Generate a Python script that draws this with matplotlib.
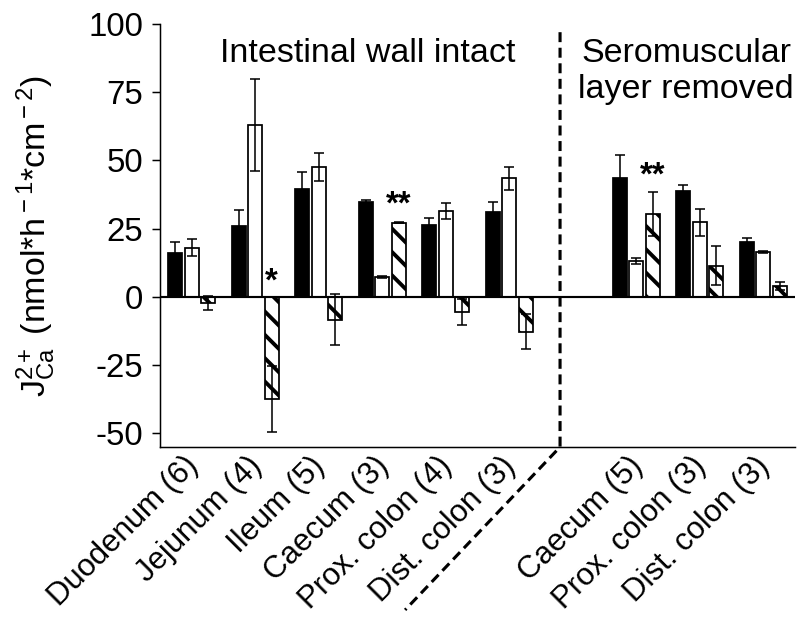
""" Transepithelial Ca2+ flux along the intestine, grouped bar chart """

import matplotlib
matplotlib.use("Agg")
import matplotlib.pyplot as plt
import matplotlib.transforms as mtransforms
import numpy as np

plt.rcParams['font.family'] = ['Liberation Sans', 'DejaVu Sans']
plt.rcParams['mathtext.fontset'] = 'custom'
plt.rcParams['mathtext.rm'] = 'Liberation Sans'
plt.rcParams['mathtext.it'] = 'Liberation Sans:italic'
plt.rcParams['hatch.linewidth'] = 2.0

DPI = 140
PX = 72.0 / DPI  # points per pixel
W, H = 798, 619

# Segments (n) - first six with intact wall, last three with seromuscular layer removed
segments = ['Duodenum (6)', 'Jejunum (4)', 'Ileum (5)', 'Caecum (3)',
            'Prox. colon (4)', 'Dist. colon (3)',
            'Caecum (5)', 'Prox. colon (3)', 'Dist. colon (3)']
n_intact = 6

black_mean = [16.0, 26.0, 39.4, 34.7, 26.4, 31.1, 43.5, 38.8, 20.3]
black_err = [4.0, 5.9, 6.3, 0.8, 2.4, 3.7, 8.5, 2.2, 1.2]
white_mean = [18.1, 63.0, 47.7, 7.4, 31.5, 43.5, 13.2, 27.3, 16.4]
white_err = [3.1, 17.0, 5.2, 0.3, 2.8, 4.2, 1.2, 4.9, 0.4]
hatch_mean = [-2.3, -37.4, -8.4, 27.2, -5.6, -12.7, 30.3, 11.5, 3.9]
hatch_err = [2.5, 12.2, 9.4, 0.3, 4.7, 6.3, 8.0, 7.3, 1.4]

# significance marks: group index, text, value at the star centre
star_group = [1, 3, 6]
star_text = ['*', '**', '**']
star_y = [8.0, 36.2, 46.5]

yticks = [-50, -25, 0, 25, 50, 75, 100]

# positions: leave an empty slot between the two experiment types
x = np.array(list(range(n_intact)) + [n_intact + 1 + i for i in range(len(segments) - n_intact)])
bw = 0.213
off = 0.26

fig = plt.figure(figsize=(W / DPI, H / DPI), dpi=DPI)
ax = fig.add_axes([160 / W, 1 - 447 / H, 635 / W, 423 / H])

ekw = dict(elinewidth=0.8, capthick=0.8, ecolor='k')
ax.bar(x - off, black_mean, bw, color='k', edgecolor='k', linewidth=0.9, zorder=2)
ax.bar(x, white_mean, bw, color='w', edgecolor='k', linewidth=0.9, zorder=2)
ax.bar(x + off, hatch_mean, bw, color='w', edgecolor='k', linewidth=0.9, hatch='\\\\', zorder=2)
for xs, m, e in [(x - off, black_mean, black_err), (x, white_mean, white_err), (x + off, hatch_mean, hatch_err)]:
    ax.errorbar(xs, m, yerr=e, fmt='none', capsize=2.6, zorder=3, **ekw)

ax.axhline(0, color='k', linewidth=1.1, zorder=4)

# stars, baseline shifted so the glyph centre sits at star_y
star_tr = ax.transData + mtransforms.ScaledTranslation(0, -15 / DPI, fig.dpi_scale_trans)
for g, t, yy in zip(star_group, star_text, star_y):
    ax.text(x[g] + off, yy, t, ha='center', va='baseline', fontsize=17, fontweight='bold',
            transform=star_tr, zorder=5)

ax.set_xlim(-0.5, 9.5)
ax.set_ylim(-55, 100)
ax.set_yticks(yticks)
ax.set_yticklabels([str(v) for v in yticks])
ax.tick_params(axis='y', length=8 * PX, width=1.5 * PX, pad=9 * PX, labelsize=17)
ax.spines["top"].set_visible(False)
ax.spines["right"].set_visible(False)
ax.spines["left"].set_linewidth(1.5 * PX)
ax.spines["bottom"].set_linewidth(1.5 * PX)

ax.set_xticks(x)
ax.set_xticklabels(segments, rotation=45, ha='right', va='top', rotation_mode='anchor')
ax.tick_params(axis='x', length=0, pad=4 * PX, labelsize=16)
shift = mtransforms.ScaledTranslation(-9 / DPI, 0, fig.dpi_scale_trans)
for lab in ax.get_xticklabels():
    lab.set_transform(lab.get_transform() + shift)

ax.set_ylabel(r'J$_{\rm Ca}^{\rm 2+}$ (nmol*h$^{\rm -1}$*cm$^{\rm -2}$)', fontsize=17.5)
ax.yaxis.set_label_coords((58 - 160) / 635, 0.5)

# dashed separator running down into the tick labels
sep_x = n_intact - 0.2
ax.plot([sep_x, sep_x, sep_x - 2.44], [97, -55, -114.7], color='k', linewidth=1.6,
        dashes=(3.2, 1.8), clip_on=False, zorder=6)

fig.text(368 / W, 1 - 62 / H, 'Intestinal wall intact', ha='center', va='baseline', fontsize=17.5)
fig.text(686 / W, 1 - 62 / H, 'Seromuscular', ha='center', va='baseline', fontsize=17.5)
fig.text(686 / W, 1 - 98 / H, 'layer removed', ha='center', va='baseline', fontsize=17.5)

plt.savefig("out.png", dpi=DPI)
